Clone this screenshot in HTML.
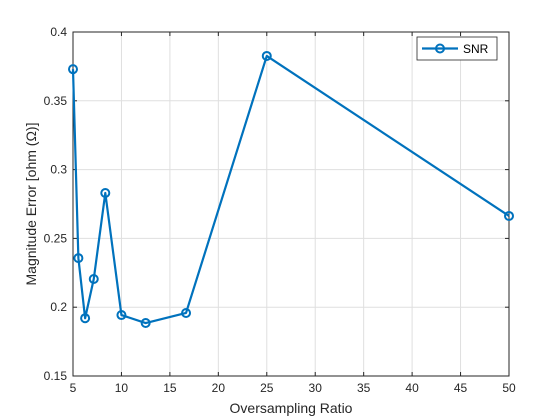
<!DOCTYPE html>
<html><head><meta charset="utf-8"><style>
body{margin:0;background:#fff;}
svg{display:block;font-family:"Liberation Sans",sans-serif;}
</style></head><body>
<svg id="chart" width="560" height="420">
<rect x="0" y="0" width="560" height="420" fill="#fff"/>
<g id="grid"></g>
<rect x="73" y="32" width="436" height="344" fill="none" stroke="#262626" stroke-width="1"/>
<g id="ticks"></g>
<g id="series"></g>
<text x="291" y="413" text-anchor="middle" font-size="14" fill="#262626">Oversampling Ratio</text>
<text transform="translate(36,204) rotate(-90)" text-anchor="middle" font-size="14" fill="#262626">Magnitude Error [ohm (Ω)]</text>
<g>
<rect x="417" y="37" width="80" height="23" fill="#fff" stroke="#262626" stroke-width="0.8"/>
<line x1="422" y1="48.5" x2="458" y2="48.5" stroke="#0072BD" stroke-width="2.2"/>
<circle cx="440" cy="48.5" r="4" fill="none" stroke="#0072BD" stroke-width="2"/>
<text x="463" y="53" font-size="12" fill="#000">SNR</text>
</g>
</svg>
<script>
const xValues=[5,5.5556,6.25,7.1429,8.3333,10,12.5,16.6667,25,50];
const yValues=[0.373,0.2357,0.192,0.2205,0.283,0.1943,0.1885,0.1958,0.3826,0.2663];
const xTicks=[5,10,15,20,25,30,35,40,45,50];
const yTicks=[0.15,0.2,0.25,0.3,0.35,0.4];
const yTickLabels=["0.15","0.2","0.25","0.3","0.35","0.4"];
const NS="http://www.w3.org/2000/svg";
const L=73,R=509,T=32,B=376;
function xs(v){return L+(v-5)/(50-5)*(R-L);}
function ys(v){return B-(v-0.15)/(0.4-0.15)*(B-T);}
function mk(t,a,p){const e=document.createElementNS(NS,t);for(const k in a)e.setAttribute(k,a[k]);p.appendChild(e);return e;}
const grid=document.getElementById('grid'),ticks=document.getElementById('ticks'),ser=document.getElementById('series');
xTicks.forEach(v=>{const x=xs(v);
const g=mk('line',{x1:x,x2:x,y1:T,y2:B,stroke:'#dfdfdf','stroke-width':1},grid);


mk('line',{x1:x,x2:x,y1:B,y2:B-4,stroke:'#262626'},ticks);
mk('line',{x1:x,x2:x,y1:T,y2:T+4,stroke:'#262626'},ticks);
const t=mk('text',{x:x,y:B+16,'text-anchor':'middle','font-size':12,fill:'#262626'},ticks);t.textContent=v;

});
yTicks.forEach((v,i)=>{const y=ys(v);
const g=mk('line',{x1:L,x2:R,y1:y,y2:y,stroke:'#dfdfdf','stroke-width':1},grid);


mk('line',{x1:L,x2:L+4,y1:y,y2:y,stroke:'#262626'},ticks);
mk('line',{x1:R,x2:R-4,y1:y,y2:y,stroke:'#262626'},ticks);
const t=mk('text',{x:L-6,y:y+4,'text-anchor':'end','font-size':12,fill:'#262626'},ticks);t.textContent=yTickLabels[i];

});
const pts=xValues.map((v,i)=>xs(v)+','+ys(yValues[i])).join(' ');
const pl=mk('polyline',{points:pts,fill:'none',stroke:'#0072BD','stroke-width':2.2,'stroke-linejoin':'round'},ser);


xValues.forEach((v,i)=>{const c=mk('circle',{cx:xs(v),cy:ys(yValues[i]),r:4,fill:'none',stroke:'#0072BD','stroke-width':2},ser);

});
</script>
</body></html>
